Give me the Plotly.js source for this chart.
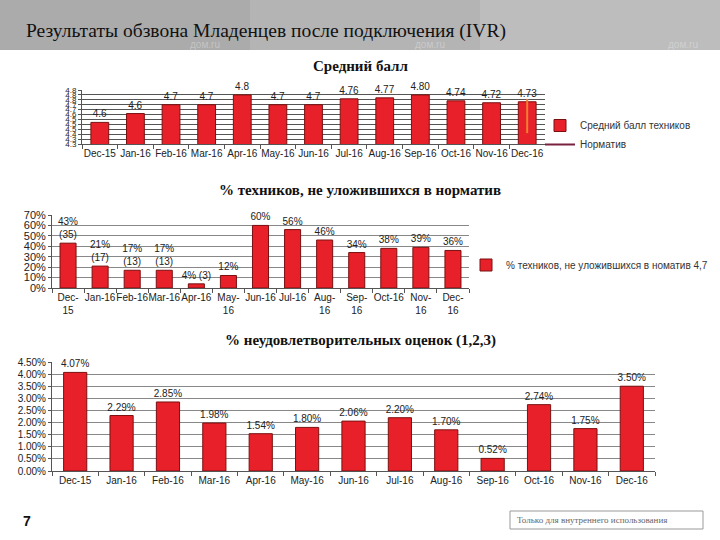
<!DOCTYPE html>
<html><head><meta charset="utf-8">
<script src="https://cdn.plot.ly/plotly-3.0.1.min.js"></script>
<style>html,body{margin:0;padding:0;background:#fff}#chart{width:720px;height:540px}</style>
</head><body><div id="chart"></div>
<script>
// ---- data ----
const months = ['Dec-15','Jan-16','Feb-16','Mar-16','Apr-16','May-16','Jun-16','Jul-16','Aug-16','Sep-16','Oct-16','Nov-16','Dec-16'];
const monthsWrapped = ['Dec-<br>15','Jan-16','Feb-16','Mar-16','Apr-16','May-<br>16','Jun-16','Jul-16','Aug-<br>16','Sep-<br>16','Oct-16','Nov-<br>16','Dec-<br>16'];
const avgScore = [4.52, 4.61, 4.70, 4.70, 4.80, 4.70, 4.70, 4.76, 4.77, 4.80, 4.74, 4.72, 4.73];
const avgScoreLabels = ['4.6','4.6','4.7','4.7','4.8','4.7','4.7','4.76','4.77','4.80','4.74','4.72','4.73'];
const normX = ['Dec-16','Dec-16'];
const normY = [4.41, 4.76];
const techPct = [43, 21, 17, 17, 4, 12, 60, 56, 46, 34, 38, 39, 36];
const techCount = [35, 17, 13, 13, 3, null, null, null, null, null, null, null, null];
const badPct = [4.07, 2.29, 2.85, 1.98, 1.54, 1.80, 2.06, 2.20, 1.70, 0.52, 2.74, 1.75, 3.50];

const techLabels = techPct.map((p,i)=> techCount[i]==null ? p+'%' : p+'%' + (p<10?' ':'<br>') + '('+techCount[i]+')');
const badLabels = badPct.map(v=> v.toFixed(2)+'%');

const RED = '#e8202a', EDGE = '#7a1010';
const SANS = "'Liberation Sans', Arial, sans-serif";
const SERIF = "'Liberation Serif', 'Times New Roman', serif";
const tickFont = {family:SANS, size:10, color:'#222'};
const lblFont = {family:SANS, size:10, color:'#222'};

const traces = [
  {type:'bar', x:months, y:avgScore, text:avgScoreLabels, textposition:'outside', cliponaxis:false, constraintext:'none',
   textfont:lblFont, marker:{color:RED, line:{color:EDGE, width:1}}, name:'Средний балл техников',
   xaxis:'x', yaxis:'y', legend:'legend'},
  {type:'scatter', mode:'lines', x:normX, y:normY, line:{color:'#f08030', width:2}, name:'Норматив',
   xaxis:'x', yaxis:'y', legend:'legend', showlegend:false},
  {type:'scatter', mode:'lines', x:[null], y:[null], line:{color:'#7a2040', width:2}, name:'Норматив',
   xaxis:'x', yaxis:'y', legend:'legend'},
  {type:'bar', x:months, y:techPct, text:techLabels, textposition:'outside', cliponaxis:false, constraintext:'none',
   textfont:lblFont, marker:{color:RED, line:{color:EDGE, width:1}}, name:'% техников, не уложившихся в номатив 4,7',
   xaxis:'x2', yaxis:'y2', legend:'legend2'},
  {type:'bar', x:months, y:badPct, text:badLabels, textposition:'outside', cliponaxis:false, constraintext:'none',
   textfont:lblFont, marker:{color:RED, line:{color:EDGE, width:1}}, name:'% неудовлетворительных оценок',
   xaxis:'x3', yaxis:'y3', showlegend:false}
];

const P = (px)=> 1 - px/540;
const X = (px)=> px/720;

const commonX = {type:'category', tickson:'boundaries', ticks:'outside', ticklen:4, tickcolor:'#555', tickangle:0,
  showline:true, linecolor:'#555', linewidth:1, showgrid:false, tickfont:tickFont, fixedrange:true};
const commonY = {showline:true, linecolor:'#555', ticks:'outside', ticklen:3, tickcolor:'#555',
  gridcolor:'#888', gridwidth:1, zeroline:false, tickfont:tickFont, fixedrange:true};

const layout = {
  width:720, height:540, margin:{l:0,r:0,t:0,b:0}, paper_bgcolor:'#fff', plot_bgcolor:'#fff',
  bargap:0.5, showlegend:true,
  xaxis: Object.assign({}, commonX, {domain:[X(82), X(545)], anchor:'y', tickvals:months, ticktext:months}),
  yaxis: Object.assign({}, commonY, {domain:[P(144), P(90)], anchor:'x', range:[4.3,4.85], dtick:0.05, tick0:4.3,
    tickformat:'.1f', tickfont:{family:SANS, size:8, color:'#222'}, gridcolor:'#555'}),
  xaxis2: Object.assign({}, commonX, {domain:[X(52), X(469)], anchor:'y2', tickvals:months, ticktext:monthsWrapped}),
  yaxis2: Object.assign({}, commonY, {domain:[P(288), P(215)], anchor:'x2', range:[0,70], dtick:10, ticksuffix:'%',
    tickfont:{family:SANS, size:11, color:'#222'}}),
  xaxis3: Object.assign({}, commonX, {domain:[X(52), X(655)], anchor:'y3', tickvals:months, ticktext:months}),
  yaxis3: Object.assign({}, commonY, {domain:[P(471), P(362)], anchor:'x3', range:[0,4.5], dtick:0.5, tickformat:'.2f', ticksuffix:'%',
    tickfont:{family:SANS, size:10, color:'#222'}}),
  legend:{x:X(540), y:P(111), xanchor:'left', yanchor:'top', bgcolor:'rgba(0,0,0,0)', tracegroupgap:0,
    font:{family:SANS, size:10, color:'#333'}, itemwidth:30},
  legend2:{x:X(466), y:P(265), xanchor:'left', yanchor:'middle', bgcolor:'rgba(0,0,0,0)',
    font:{family:SANS, size:10, color:'#333'}, itemwidth:30},
  shapes:[
    {type:'rect', xref:'paper', yref:'paper', x0:0, x1:X(250), y0:P(50), y1:1, fillcolor:'#ababab', line:{width:0}, layer:'below'},
    {type:'rect', xref:'paper', yref:'paper', x0:X(250), x1:X(480), y0:P(50), y1:1, fillcolor:'#b4b4b4', line:{width:0}, layer:'below'},
    {type:'rect', xref:'paper', yref:'paper', x0:X(480), x1:1, y0:P(50), y1:1, fillcolor:'#bdbdbd', line:{width:0}, layer:'below'},
    {type:'rect', xref:'paper', yref:'paper', x0:X(510), x1:X(703), y0:P(529), y1:P(511), fillcolor:'rgba(0,0,0,0)', line:{color:'#999', width:1}, layer:'below'}
  ],
  annotations:[
    {xref:'paper', yref:'paper', x:X(24), y:P(31), xanchor:'left', yanchor:'middle', showarrow:false,
     text:'Результаты обзвона Младенцев после подключения (IVR)',
     font:{family:SERIF, size:19.5, color:'#111'}},
    {xref:'paper', yref:'paper', x:X(205), y:P(44), xanchor:'center', yanchor:'middle', showarrow:false, text:'дом.ru', font:{family:SANS, size:10, color:'#c4c4c4'}},
    {xref:'paper', yref:'paper', x:X(430), y:P(44), xanchor:'center', yanchor:'middle', showarrow:false, text:'дом.ru', font:{family:SANS, size:10, color:'#cacaca'}},
    {xref:'paper', yref:'paper', x:X(683), y:P(44), xanchor:'center', yanchor:'middle', showarrow:false, text:'дом.ru', font:{family:SANS, size:10, color:'#d0d0d0'}},
    {xref:'paper', yref:'paper', x:X(360), y:P(66), xanchor:'center', yanchor:'middle', showarrow:false, text:'<b>Средний балл</b>',
     font:{family:SERIF, size:15, color:'#111'}},
    {xref:'paper', yref:'paper', x:X(360), y:P(190), xanchor:'center', yanchor:'middle', showarrow:false, text:'<b>% техников, не уложившихся в норматив</b>',
     font:{family:SERIF, size:15, color:'#111'}},
    {xref:'paper', yref:'paper', x:X(360), y:P(340), xanchor:'center', yanchor:'middle', showarrow:false, text:'<b>% неудовлетворительных оценок (1,2,3)</b>',
     font:{family:SERIF, size:15, color:'#111'}},
    {xref:'paper', yref:'paper', x:X(27), y:P(521), xanchor:'center', yanchor:'middle', showarrow:false, text:'<b>7</b>',
     font:{family:SANS, size:14, color:'#111'}},
    {xref:'paper', yref:'paper', x:X(592), y:P(520), xanchor:'center', yanchor:'middle', showarrow:false, text:'Только для внутреннего использования',
     font:{family:SERIF, size:9, color:'#666'}}
  ]
};

Plotly.newPlot('chart', traces, layout, {staticPlot:true, displayModeBar:false});
</script></body></html>
